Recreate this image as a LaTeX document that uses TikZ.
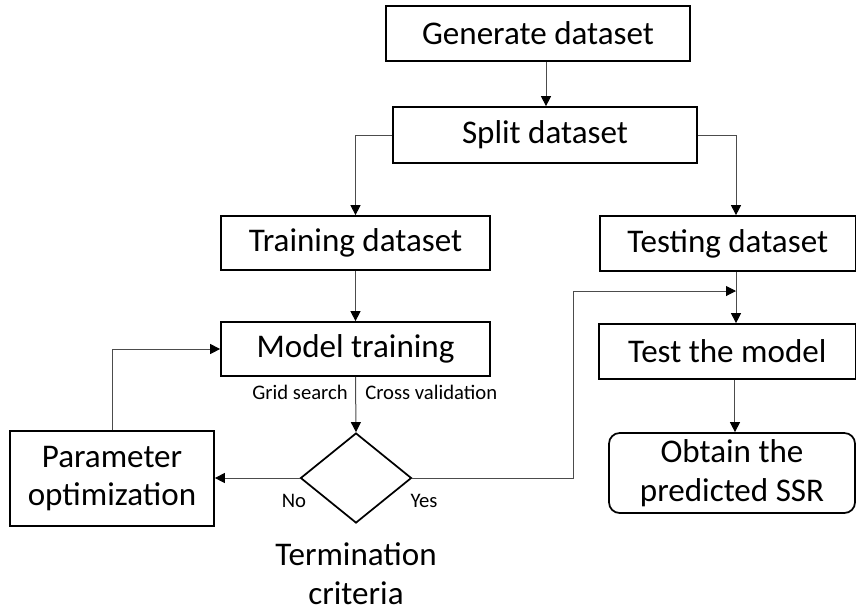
\documentclass[tikz,border=0pt]{standalone}
\usepackage{fontspec}
\setmainfont{Carlito}
\usetikzlibrary{arrows.meta,shapes.geometric}
\tikzset{
  box/.style={draw=black,line width=1.3pt,inner sep=0pt,align=center,
    font=\fontsize{24.8}{29}\selectfont},
  conn/.style={draw=black!70,line width=0.75pt,
    -{Triangle[length=7.5pt,width=7.5pt,color=black]}},
  small/.style={inner sep=0pt,font=\fontsize{15.5}{18}\selectfont},
}
\begin{document}
\begin{tikzpicture}[x=0.75pt,y=-0.75pt]
\useasboundingbox (0,0) rectangle (857,612);
\node[box,minimum width=228pt,minimum height=41.25pt] (gen) at (538,33.5) {Generate dataset};
\node[box,minimum width=228pt,minimum height=42pt] (split) at (545,135) {Split dataset};
\node[box,minimum width=201.75pt,minimum height=40.5pt] (train) at (355.5,243) {Training dataset};
\node[box,minimum width=201.75pt,minimum height=40.5pt] (model) at (355.5,349) {Model training};
\node[box,minimum width=191.6pt,minimum height=41.25pt] (test) at (727.75,243.5) {Testing dataset};
\node[box,minimum width=192.4pt,minimum height=41.25pt] (testm) at (727.25,351.5) {Test the model};
\node[box,rounded corners=8pt,minimum width=184.5pt,minimum height=60pt] (obtain) at (732,473) {Obtain the\\predicted SSR};
\node[box,minimum width=153pt,minimum height=71.25pt] (param) at (112,478.5) {Parameter\\optimization};
\node[draw=black,line width=1.3pt,diamond,inner sep=0pt,minimum width=83.25pt,minimum height=67.5pt] (dia) at (356,478) {};
\node[inner sep=0pt,align=center,font=\fontsize{24.8}{29}\selectfont] (term) at (356,574) {Termination\\criteria};

\node[small,anchor=east] (gs) at (348,392) {Grid search};
\node[small,anchor=west] (cv) at (365,392) {Cross validation};
\node[small] (no) at (294,501) {No};
\node[small] (yes) at (424,501) {Yes};

\coordinate (yc) at (573,291);
\coordinate (yj) at (736,291);

\draw[conn] ([xshift=6pt]gen.south) -- ([xshift=6pt]gen.south |- split.north);
\draw[conn] (split.west) -| (train.north);
\draw[conn] (split.east) -| ([xshift=6.2pt]test.north);
\draw[conn] ([xshift=6.2pt]test.south) -- ([xshift=6.2pt]test.south |- testm.north);
\draw[conn] (train.south) -- (model.north);
\draw[conn] (model.south) -- (dia.north);
\draw[conn] (dia.west) -- (dia.west -| param.east);
\draw[conn] (param.north) |- (model.west);
\draw[conn] (dia.east) -| (yc) -- (yj);
\draw[conn] ([xshift=5.8pt]testm.south) -- ([xshift=5.8pt]testm.south |- obtain.north);
\end{tikzpicture}
\end{document}
